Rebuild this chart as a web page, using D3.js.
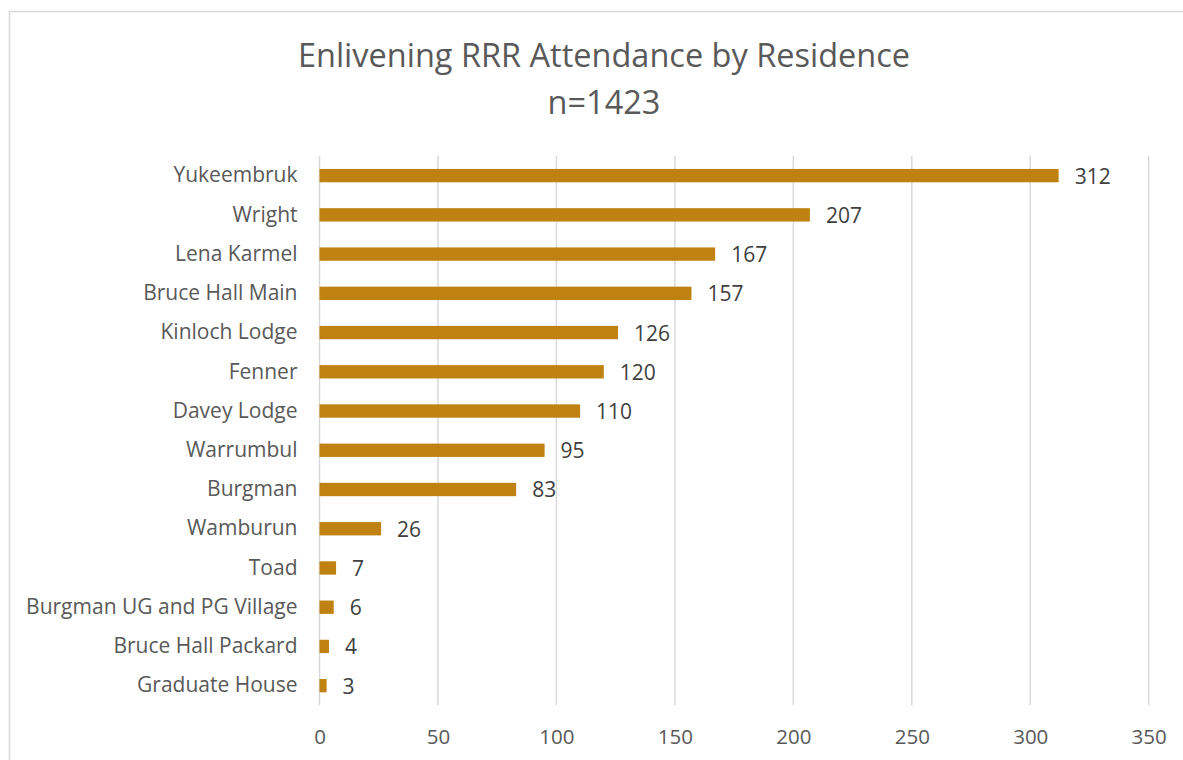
<!DOCTYPE html>
<html>
<head>
<meta charset="utf-8">
<script src="https://cdn.jsdelivr.net/npm/d3@7"></script>
<style>
  body { margin: 0; background: #fff; }
  svg { font-family: "Open Sans", sans-serif; }
</style>
</head>
<body>
<svg id="chart" width="1183" height="760"></svg>
<script>
const residences = ["Yukeembruk", "Wright", "Lena Karmel", "Bruce Hall Main", "Kinloch Lodge",
  "Fenner", "Davey Lodge", "Warrumbul", "Burgman", "Wamburun", "Toad",
  "Burgman UG and PG Village", "Bruce Hall Packard", "Graduate House"];
const attendance = [312, 207, 167, 157, 126, 120, 110, 95, 83, 26, 7, 6, 4, 3];
const xTicks = [0, 50, 100, 150, 200, 250, 300, 350];
const titleLines = ["Enlivening RRR Attendance by Residence", "n=1423"];

const svg = d3.select("#chart");
const margin = { top: 156, left: 319.5, right: 1183 - 1148.7, bottom: 760 - 705.3 };
const width = 1183;
const height = 760;

// chart frame
svg.append("rect")
  .attr("x", 9.5).attr("y", 11.5)
  .attr("width", 1200).attr("height", 800)
  .attr("fill", "#fff")
  .attr("stroke", "#d9d9d9")
  .attr("stroke-width", 1.5);

const x = d3.scaleLinear().domain([0, 350]).range([margin.left, width - margin.right]);
const y = d3.scaleBand().domain(residences).range([margin.top, height - margin.bottom]).paddingInner(0.66).paddingOuter(0.33);

// title
svg.append("text")
  .attr("x", 604).attr("y", 67)
  .attr("text-anchor", "middle")
  .attr("fill", "#595959")
  .attr("font-size", "32.5px")
  .selectAll("tspan")
  .data(titleLines)
  .join("tspan")
  .attr("x", 604)
  .attr("dy", (d, i) => i === 0 ? 0 : 47)
  .text(d => d);

// gridlines
svg.append("g")
  .selectAll("line")
  .data(xTicks)
  .join("line")
  .attr("x1", d => x(d)).attr("x2", d => x(d))
  .attr("y1", margin.top).attr("y2", height - margin.bottom)
  .attr("stroke", "#d9d9d9")
  .attr("stroke-width", 1.5);

// x axis labels
const xAxis = svg.append("g")
  .attr("transform", `translate(0,${height - margin.bottom})`)
  .call(d3.axisBottom(x).tickValues(xTicks).tickSize(0).tickPadding(24));
xAxis.select(".domain").remove();
xAxis.selectAll("text")
  .attr("font-family", "Open Sans, sans-serif")
  .attr("font-size", "20.5px")
  .attr("fill", "#595959");

// y axis labels
const yAxis = svg.append("g")
  .attr("transform", `translate(${margin.left},0)`)
  .call(d3.axisLeft(y).tickSize(0).tickPadding(22));
yAxis.select(".domain").remove();
yAxis.selectAll("text")
  .attr("font-family", "Open Sans, sans-serif")
  .attr("font-size", "21px")
  .attr("fill", "#595959");

// bars
svg.append("g")
  .selectAll("rect")
  .data(residences)
  .join("rect")
  .attr("x", x(0))
  .attr("y", d => y(d))
  .attr("width", (d, i) => x(attendance[i]) - x(0))
  .attr("height", y.bandwidth())
  .attr("fill", "#bf8212");

// data labels
svg.append("g")
  .selectAll("text")
  .data(residences)
  .join("text")
  .attr("x", (d, i) => x(attendance[i]) + 16)
  .attr("y", d => y(d) + y.bandwidth() / 2)
  .attr("dy", "0.38em")
  .attr("font-size", "21px")
  .attr("fill", "#404040")
  .text((d, i) => attendance[i]);
</script>
</body>
</html>
